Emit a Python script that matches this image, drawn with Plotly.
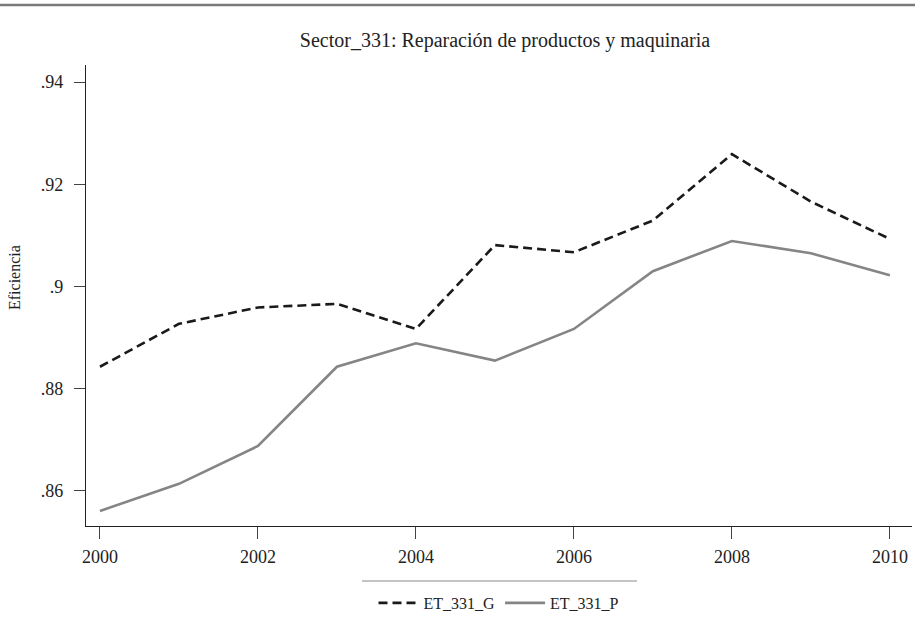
import plotly.graph_objects as go

years = [2000, 2001, 2002, 2003, 2004, 2005, 2006, 2007, 2008, 2009, 2010]
et_331_g = [0.8843, 0.8927, 0.8959, 0.8966, 0.8917, 0.9081, 0.9067, 0.9129, 0.9259, 0.9166, 0.9093]
et_331_p = [0.8561, 0.8614, 0.8688, 0.8843, 0.8889, 0.8855, 0.8917, 0.9030, 0.9089, 0.9065, 0.9022]

y_ticks = [0.86, 0.88, 0.90, 0.92, 0.94]
y_ticktext = [".86", ".88", ".9", ".92", ".94"]
x_ticks = [2000, 2002, 2004, 2006, 2008, 2010]

title_text = "Sector_331: Reparación de productos y maquinaria"
y_title = "Eficiencia"

FONT = "Liberation Serif"
W, H = 915, 629
L, R, T, B = 86, 3, 65, 103
pw = W - L - R
ph = H - T - B

fig = go.Figure()
fig.add_trace(go.Scatter(x=years, y=et_331_g, mode="lines", name="ET_331_G",
                         line=dict(color="#1a1a1a", width=2.6, dash="9px,5px")))
fig.add_trace(go.Scatter(x=years, y=et_331_p, mode="lines", name="ET_331_P",
                         line=dict(color="#858585", width=2.6)))

fig.update_layout(
    width=W, height=H,
    margin=dict(l=L, r=R, t=T, b=B),
    paper_bgcolor="white", plot_bgcolor="white",
    font=dict(family=FONT, color="#222222"),
    title=dict(text=title_text, x=505 / W, xanchor="center", y=1 - 40 / H, yanchor="middle",
               font=dict(family=FONT, size=20, color="#222222")),
    showlegend=True,
    legend=dict(orientation="h", x=0.5, xanchor="center", y=(ph - (603 - T)) / ph, yanchor="middle",
                font=dict(family=FONT, size=16, color="#222222"), bgcolor="rgba(0,0,0,0)",
                itemwidth=40, tracegroupgap=0),
    xaxis=dict(range=[1999.823, 2010.28], tickvals=x_ticks, showgrid=False, zeroline=False,
               showline=True, linecolor="#222222", linewidth=1.3,
               ticks="outside", ticklen=12, tickwidth=1.2, tickcolor="#444444",
               ticklabelstandoff=2,
               tickfont=dict(family=FONT, size=18, color="#222222")),
    yaxis=dict(range=[0.85315, 0.94333], tickvals=y_ticks, ticktext=y_ticktext, showgrid=False,
               zeroline=False, showline=True, linecolor="#222222", linewidth=1.3,
               ticks="outside", ticklen=11, tickwidth=1.2, tickcolor="#444444",
               ticklabelstandoff=7,
               tickfont=dict(family=FONT, size=18, color="#222222")),
)

fig.add_annotation(text=y_title, xref="paper", yref="paper",
                   x=(14 - L) / pw, y=(ph - (278 - T)) / ph, textangle=-90,
                   showarrow=False, xanchor="center", yanchor="middle",
                   font=dict(family=FONT, size=16, color="#222222"))

# top rule
fig.add_shape(type="line", xref="paper", yref="paper",
              x0=-L / pw, x1=(W - L) / pw, y0=(ph + T - 5) / ph, y1=(ph + T - 5) / ph,
              line=dict(color="#7a7a7a", width=2.5))
# legend separator
fig.add_shape(type="line", xref="paper", yref="paper",
              x0=(362 - L) / pw, x1=(637 - L) / pw, y0=(ph - (581 - T)) / ph, y1=(ph - (581 - T)) / ph,
              line=dict(color="#8a8a8a", width=1.2))

fig.write_html("out.html", config={"displayModeBar": False},
               post_script="document.body.style.margin='0';document.body.style.padding='0';")
